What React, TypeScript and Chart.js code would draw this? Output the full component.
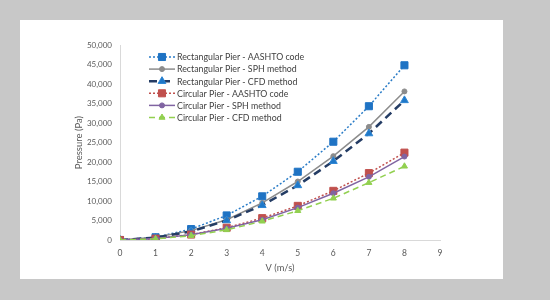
import React, { useEffect, useRef } from 'react';
import { Chart, registerables } from 'chart.js';
Chart.register(...registerables);

const speeds = [0, 1, 2, 3, 4, 5, 6, 7, 8];
const rectAashto = [0, 700, 2800, 6300, 11200, 17500, 25200, 34300, 44800];
const rectSph = [0, 700, 2400, 5200, 9500, 15000, 21500, 29000, 38100];
const rectCfd = [0, 600, 2200, 5000, 8900, 14000, 20200, 27300, 35800];
const circAashto = [0, 350, 1400, 3150, 5600, 8750, 12600, 17150, 22400];
const circSph = [0, 400, 1350, 3000, 5200, 8300, 12000, 16200, 21400];
const circCfd = [0, 300, 1100, 2600, 4800, 7500, 10700, 14700, 18900];
const seriesLabels = [
  'Rectangular Pier - AASHTO code',
  'Rectangular Pier - SPH method',
  'Rectangular Pier - CFD method',
  'Circular Pier - AASHTO code',
  'Circular Pier - SPH method',
  'Circular Pier - CFD method',
];
const xAxisTitle = 'V (m/s)';
const yAxisTitle = 'Pressure (Pa)';

const FONT = 'Lato';

function drawMarker(ctx: CanvasRenderingContext2D, style: string, r: number, x: number, y: number, fill: string, stroke: string) {
  ctx.save();
  ctx.fillStyle = fill;
  ctx.strokeStyle = stroke;
  ctx.lineWidth = 1;
  ctx.setLineDash([]);
  ctx.beginPath();
  if (style === 'rect') {
    const s = Math.SQRT1_2 * r;
    ctx.rect(x - s, y - s, 2 * s, 2 * s);
  } else if (style === 'triangle') {
    ctx.moveTo(x, y - r);
    ctx.lineTo(x + r * Math.sin((2 * Math.PI) / 3), y - r * Math.cos((2 * Math.PI) / 3));
    ctx.lineTo(x + r * Math.sin((4 * Math.PI) / 3), y - r * Math.cos((4 * Math.PI) / 3));
    ctx.closePath();
  } else {
    ctx.arc(x, y, r, 0, Math.PI * 2);
  }
  ctx.fill();
  ctx.stroke();
  ctx.restore();
}

const bgPlugin = {
  id: 'bg',
  beforeDraw(chart: any) {
    const { ctx, width, height } = chart;
    ctx.save();
    ctx.fillStyle = '#c8c8c8';
    ctx.fillRect(0, 0, width, height);
    ctx.fillStyle = '#ffffff';
    ctx.fillRect(20, 20, 483, 259);
    ctx.restore();
  },
};

const legendPlugin = {
  id: 'customLegend',
  afterDraw(chart: any) {
    const { ctx, chartArea } = chart;
    const x0 = chartArea.left + 29;
    const y0 = chartArea.top + 12;
    chart.data.datasets.forEach((ds: any, i: number) => {
      const y = y0 + i * 12.1;
      ctx.save();
      ctx.strokeStyle = ds.borderColor;
      ctx.lineWidth = ds.borderWidth;
      ctx.setLineDash(ds.borderDash || []);
      ctx.beginPath();
      ctx.moveTo(x0, y);
      ctx.lineTo(x0 + 26, y);
      ctx.stroke();
      ctx.restore();
      drawMarker(ctx, ds.pointStyle, ds.pointRadius, x0 + 13, y, ds.pointBackgroundColor, ds.pointBorderColor);
      ctx.save();
      ctx.fillStyle = '#404040';
      ctx.font = `8.8px ${FONT}`;
      ctx.textBaseline = 'middle';
      ctx.textAlign = 'left';
      ctx.fillText(ds.label, x0 + 28, y + 0.5);
      ctx.restore();
    });
  },
};

function makeData(values: number[]) {
  return speeds.map((s, i) => ({ x: s, y: values[i] }));
}

export default function App() {
  const ref = useRef<HTMLCanvasElement | null>(null);
  useEffect(() => {
    if (!ref.current) return;
    const series = [
      { values: rectAashto, line: '#2a7cc7', dash: [2, 2], width: 1.5, style: 'rect', r: 5, fill: '#1f73c4', stroke: '#1f73c4' },
      { values: rectSph, line: '#8c8c8c', dash: [], width: 1.5, style: 'circle', r: 2.5, fill: '#8c8c8c', stroke: '#8c8c8c' },
      { values: rectCfd, line: '#243c64', dash: [8, 5], width: 2.5, style: 'triangle', r: 4.5, fill: '#1f78c8', stroke: '#2e86d4' },
      { values: circAashto, line: '#c0504d', dash: [2, 2], width: 1.5, style: 'rect', r: 5, fill: '#c0504d', stroke: '#c0504d' },
      { values: circSph, line: '#8064a2', dash: [], width: 1.5, style: 'circle', r: 2.5, fill: '#8064a2', stroke: '#8064a2' },
      { values: circCfd, line: '#92d050', dash: [6, 4], width: 1.5, style: 'triangle', r: 3.5, fill: '#92d050', stroke: '#92d050' },
    ];
    const chart = new Chart(ref.current, {
      type: 'line',
      data: {
        datasets: series.map((s, i) => ({
          label: seriesLabels[i],
          data: makeData(s.values),
          borderColor: s.line,
          borderWidth: s.width,
          borderDash: s.dash,
          pointStyle: s.style,
          pointRadius: s.r,
          pointBackgroundColor: s.fill,
          pointBorderColor: s.stroke,
          pointBorderWidth: 1,
          tension: 0,
          fill: false,
          order: 6 - i,
        })) as any,
      },
      options: {
        animation: false,
        responsive: false,
        maintainAspectRatio: false,
        layout: { padding: { left: 73, top: 45, right: 110, bottom: 26 } },
        plugins: { legend: { display: false }, tooltip: { enabled: false } },
        scales: {
          x: {
            type: 'linear',
            min: 0,
            max: 9,
            afterFit: (scale: any) => { scale.height = 34; },
            grid: { display: false, drawTicks: false },
            border: { display: true, color: '#d9d9d9', width: 1 },
            ticks: { stepSize: 1, padding: 8, color: '#595959', font: { family: FONT, size: 8.5 } },
            title: { display: true, text: xAxisTitle, color: '#595959', padding: 0, font: { family: FONT, size: 9.3, lineHeight: 1.2 } },
          },
          y: {
            type: 'linear',
            min: 0,
            max: 50000,
            afterFit: (scale: any) => { scale.width = 47; },
            grid: { display: false, drawTicks: false },
            border: { display: true, color: '#d9d9d9', width: 1 },
            ticks: {
              stepSize: 5000,
              padding: 8,
              color: '#595959',
              font: { family: FONT, size: 8 },
              callback: (v: any) => Number(v).toLocaleString('en-US'),
            },
            title: { display: true, text: yAxisTitle, color: '#595959', padding: 0, font: { family: FONT, size: 9.5, lineHeight: 1.2 } },
          },
        },
      },
      plugins: [bgPlugin, legendPlugin],
    });
    return () => chart.destroy();
  }, []);
  return (
    <div style={{ position: 'absolute', left: 0, top: 0, width: 550, height: 300 }}>
      <canvas ref={ref} width={550} height={300} style={{ display: 'block', width: 550, height: 300 }} />
    </div>
  );
}
